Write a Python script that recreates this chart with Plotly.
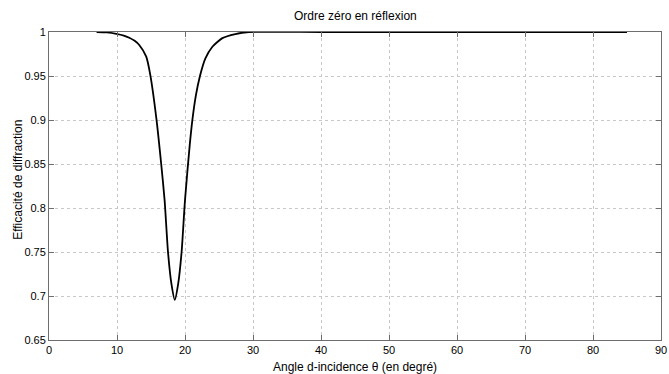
import plotly.graph_objects as go

# Data
angle_deg = [7.0, 8.5, 9.9, 11.0, 11.8, 12.6, 13.3, 14.3, 14.9, 15.8, 16.5, 17.0, 17.5,
             18.0, 18.5, 19.0, 19.5, 20.0, 20.7, 21.1, 21.6, 22.2, 23.0, 24.0, 25.5,
             27.4, 29.4, 40.0, 60.0, 85.0]
efficacite = [1.0, 0.9995, 0.998, 0.996, 0.9935, 0.990, 0.985, 0.972, 0.951, 0.901, 0.850,
              0.809, 0.750, 0.714, 0.6955, 0.714, 0.750, 0.809, 0.872, 0.901, 0.928,
              0.950, 0.970, 0.983, 0.993, 0.9977, 1.0, 1.0, 1.0, 1.0]

x_ticks = [0, 10, 20, 30, 40, 50, 60, 70, 80, 90]
y_ticks = [0.65, 0.7, 0.75, 0.8, 0.85, 0.9, 0.95, 1]
y_tick_text = ["0.65", "0.7", "0.75", "0.8", "0.85", "0.9", "0.95", "1"]

title_text = "Ordre zéro en réflexion"
x_title = "Angle d-incidence θ (en degré)"
y_title = "Efficacité de diffraction"

font_main = "Liberation Sans, Arial, Helvetica, sans-serif"

fig = go.Figure()
fig.add_trace(go.Scatter(
    x=angle_deg, y=efficacite, mode="lines",
    line=dict(color="black", width=1.8, shape="spline", smoothing=0.6),
    showlegend=False, hoverinfo="skip",
))

axis_common = dict(
    showline=True, linecolor="#6e6e6e", linewidth=1, mirror="allticks",
    ticks="inside", ticklen=5, tickcolor="#6e6e6e",
    showgrid=True, gridcolor="#c8c8c8", griddash="dot", gridwidth=1,
    zeroline=False, tickfont=dict(family=font_main, size=11, color="black"),
    ticklabeloverflow="allow", automargin=False,
)

fig.update_layout(
    width=669, height=374,
    margin=dict(l=49, r=8, t=32, b=34),
    paper_bgcolor="white", plot_bgcolor="white",
    xaxis=dict(range=[0, 90], tickvals=x_ticks, **axis_common),
    yaxis=dict(range=[0.65, 1], tickvals=y_ticks, ticktext=y_tick_text, **axis_common),
    annotations=[
        dict(text=title_text, x=0.5, y=1, xref="paper", yref="paper",
             xanchor="center", yanchor="bottom", yshift=7, showarrow=False,
             font=dict(family=font_main, size=12, color="black")),
        dict(text=x_title, x=0.5, y=0, xref="paper", yref="paper",
             xanchor="center", yanchor="top", yshift=-18, showarrow=False,
             font=dict(family=font_main, size=12, color="black")),
        dict(text=y_title, x=(18 - 49) / (669 - 49 - 8), y=0.52, xref="paper", yref="paper",
             textangle=-90, showarrow=False, xanchor="center", yanchor="middle",
             font=dict(family="Liberation Sans Narrow, Arial Narrow, Liberation Sans, sans-serif",
                       size=12, color="black")),
    ],
)

fig.write_html("out.html")
